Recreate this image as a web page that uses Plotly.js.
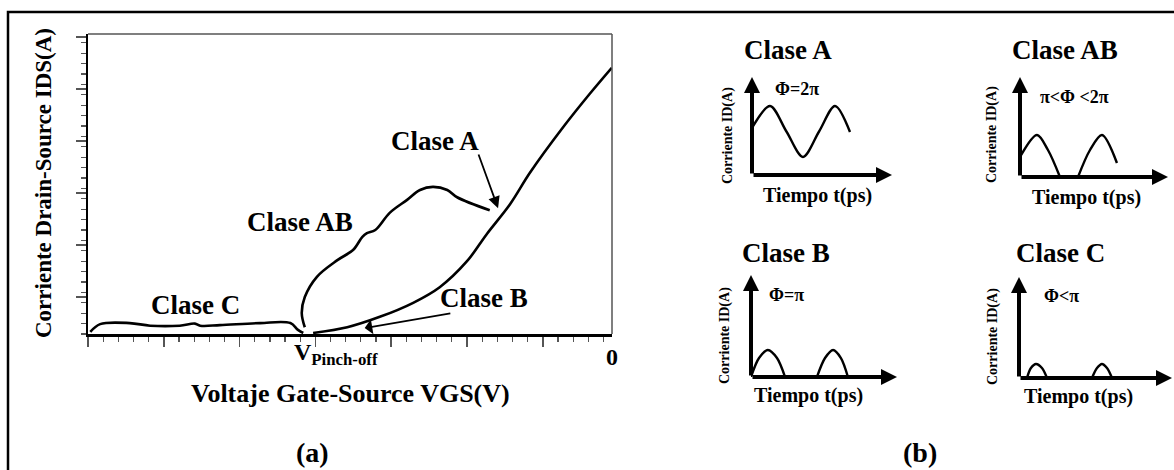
<!DOCTYPE html>
<html>
<head>
<meta charset="utf-8">
<script src="https://cdn.plot.ly/plotly-3.0.1.min.js"></script>
<style>html,body{margin:0;padding:0;background:#fff;}#chart{width:1174px;height:470px;}</style>
</head>
<body>
<div id="chart"></div>
<script>
// ---------- (a) transfer characteristic ----------
// x: VGS in major-tick units (left edge = 0, right edge "0 V" = 6.91); y: IDS in major-tick units
const mainVgs = [2.97, 3.42, 3.85, 4.29, 4.64, 5.00, 5.26, 5.57, 5.83, 6.27, 6.62, 6.91];
const mainIds = [0.02, 0.13, 0.33, 0.60, 0.90, 1.40, 1.92, 2.50, 3.10, 3.98, 4.62, 5.12];
const classABVgs = [2.86, 2.82, 2.86, 3.02, 3.29, 3.50, 3.62, 3.68, 3.79, 3.98, 4.21, 4.38, 4.55, 4.74, 4.87, 5.30];
const classABIds = [0.13, 0.40, 0.71, 1.10, 1.42, 1.62, 1.87, 1.94, 2.00, 2.33, 2.58, 2.77, 2.83, 2.77, 2.63, 2.38];
const classCVgs = [0.03, 0.16, 0.55, 0.82, 1.21, 1.41, 1.48, 1.74, 2.27, 2.67, 2.77, 2.84];
const classCIds = [0.04, 0.19, 0.21, 0.16, 0.16, 0.20, 0.16, 0.17, 0.21, 0.21, 0.08, 0.02];
const xTickLabels = ["V<sub>Pinch-off</sub>", "0"];

// ---------- (b) drain current waveforms (time, current) ----------
const waveATime = [0, 1.29, 2.46, 3.64, 4.79, 5.93, 7.0];
const waveACurr = [4.8, 7.04, 4.44, 1.84, 4.44, 7.04, 4.39];
const waveABTime = [0, 1.15, 1.89, 2.70, null, 3.92, 4.73, 5.54, 6.55];
const waveABCurr = [2.0, 4.2, 2.7, 0, null, 0, 2.7, 4.2, 1.4];
const waveBTime = [0, 0.55, 1.16, 1.78, 2.33, null, 4.52, 5.07, 5.62, 6.16, 6.64];
const waveBCurr = [0, 1.86, 2.65, 1.86, 0, null, 0, 1.86, 2.65, 1.86, 0];
const waveCTime = [0.52, 0.78, 1.11, 1.5, 1.83, null, 4.77, 5.1, 5.42, 5.75, 6.08];
const waveCCurr = [0, 0.99, 1.39, 0.99, 0, null, 0, 0.99, 1.39, 0.99, 0];
const panelTitles = ["Clase A", "Clase AB", "Clase B", "Clase C"];
const phaseLabels = ["Φ=2π", "π&lt;Φ &lt;2π", "Φ=π", "Φ&lt;π"];

const W = 1174, H = 470;
const fx = px => px / W;
const fy = py => 1 - py / H;
const FONT = "Liberation Serif, Times New Roman, serif";
const LINE = {color: "black", width: 2.6, shape: "spline", smoothing: 1};

const traces = [
  {x: classCVgs, y: classCIds, mode: "lines", line: LINE, xaxis: "x", yaxis: "y", hoverinfo: "skip"},
  {x: classABVgs, y: classABIds, mode: "lines", line: LINE, xaxis: "x", yaxis: "y", hoverinfo: "skip"},
  {x: mainVgs, y: mainIds, mode: "lines", line: LINE, xaxis: "x", yaxis: "y", hoverinfo: "skip"},
];

// small panels: origin pixel, x-arrow tip, y-arrow tip
const panels = [
  {t: waveATime, c: waveACurr, ox: 752, oy: 175, xt: 892, yt: 77},
  {t: waveABTime, c: waveABCurr, ox: 1020, oy: 177, xt: 1168, yt: 77},
  {t: waveBTime, c: waveBCurr, ox: 751, oy: 377, xt: 897, yt: 275},
  {t: waveCTime, c: waveCCurr, ox: 1019, oy: 378, xt: 1172, yt: 277},
];
// label positions (pixel centres) for each small panel
const panelText = [
  {title: [788, 50], phi: [797, 89], time: [817, 196], curr: [728, 136]},
  {title: [1065, 50], phi: [1074, 97], time: [1086, 197], curr: [992, 135]},
  {title: [786, 253], phi: [786, 295], time: [808, 395], curr: [725, 336]},
  {title: [1060, 253], phi: [1061, 296], time: [1078, 396], curr: [993, 337]},
];

const layout = {
  width: W, height: H,
  margin: {l: 0, r: 0, t: 0, b: 0},
  paper_bgcolor: "white", plot_bgcolor: "white",
  showlegend: false,
  font: {family: FONT, color: "black"},
  xaxis: {
    domain: [fx(88), fx(612)], range: [0, 6.913], anchor: "y",
    showgrid: false, zeroline: false, showline: true, linecolor: "black", linewidth: 3,
    ticks: "outside", tick0: 0, dtick: 1, ticklen: 10, tickwidth: 1.5, tickcolor: "#555",
    minor: {ticks: "outside", dtick: 0.2, ticklen: 5, tickwidth: 1.2, tickcolor: "#555"},
    showticklabels: false, fixedrange: true
  },
  yaxis: {
    domain: [fy(334), fy(34)], range: [0, 5.77], anchor: "x",
    showgrid: false, zeroline: false, showline: true, linecolor: "black", linewidth: 2.5,
    ticks: "outside", tick0: 0.71, dtick: 1, ticklen: 10, tickwidth: 1.5, tickcolor: "#555",
    minor: {ticks: "outside", dtick: 0.2, ticklen: 5, tickwidth: 1.2, tickcolor: "#555"},
    showticklabels: false, fixedrange: true
  },
  shapes: [
    {type: "line", xref: "paper", yref: "paper", x0: fx(88), x1: fx(612), y0: fy(34), y1: fy(34), line: {color: "#555", width: 1.5}},
    {type: "line", xref: "paper", yref: "paper", x0: fx(612), x1: fx(612), y0: fy(34), y1: fy(334), line: {color: "#555", width: 1.5}},
    {type: "rect", xref: "paper", yref: "paper", x0: fx(8), x1: 1.02, y0: fy(12), y1: -0.05, line: {color: "black", width: 2.5}},
  ],
  annotations: []
};

const ann = layout.annotations;
function txt(text, px, py, size, extra) {
  ann.push(Object.assign({text: text, xref: "paper", yref: "paper", x: fx(px), y: fy(py),
    xanchor: "center", yanchor: "middle", showarrow: false,
    font: {family: FONT, size: size, color: "black", weight: "bold"}}, extra || {}));
}

// panel (a) texts
txt("Clase A", 435, 141, 27);
txt("Clase AB", 300, 222, 27);
txt("Clase C", 195, 305, 27);
txt("Clase B", 484, 298, 27);
txt(xTickLabels[0], 336, 354, 24);
txt(xTickLabels[1], 612, 357, 24);
txt("Voltaje Gate-Source VGS(V)", 350, 393, 26);
txt("Corriente Drain-Source IDS(A)", 43, 183, 23, {textangle: -90});
txt("(a)", 312, 452, 28);
txt("(b)", 920, 452, 28);

// arrows in panel (a)
ann.push({xref: "x", yref: "y", axref: "x", ayref: "y", x: 5.41, y: 2.42, ax: 5.145, ay: 3.48,
  text: "", showarrow: true, arrowhead: 2, arrowsize: 1.3, arrowwidth: 1.8, arrowcolor: "black"});
ann.push({xref: "x", yref: "y", axref: "x", ayref: "y", x: 3.65, y: 0.115, ax: 4.80, ay: 0.40,
  text: "", showarrow: true, arrowhead: 1, arrowsize: 1.4, arrowwidth: 1.8, arrowcolor: "black"});

// small panels
panels.forEach((p, i) => {
  const n = i + 2;
  const xa = "xaxis" + n, ya = "yaxis" + n;
  layout[xa] = {domain: [fx(p.ox), fx(p.xt)], range: [0, 10], anchor: "y" + n, visible: false, fixedrange: true};
  layout[ya] = {domain: [fy(p.oy), fy(p.yt)], range: [0, 10], anchor: "x" + n, visible: false, fixedrange: true};
  traces.push({x: p.t, y: p.c, mode: "lines", connectgaps: false,
    line: {color: "black", width: 2.4, shape: "spline", smoothing: 0.9},
    xaxis: "x" + n, yaxis: "y" + n, hoverinfo: "skip", cliponaxis: false});
  ann.push({xref: "x" + n, yref: "y" + n, axref: "x" + n, ayref: "y" + n, x: 10, y: 0, ax: 0, ay: 0,
    text: "", showarrow: true, arrowhead: 2, arrowsize: 0.8, arrowwidth: 4, arrowcolor: "black"});
  ann.push({xref: "x" + n, yref: "y" + n, axref: "x" + n, ayref: "y" + n, x: 0, y: 10, ax: 0, ay: 0,
    text: "", showarrow: true, arrowhead: 2, arrowsize: 0.8, arrowwidth: 4, arrowcolor: "black"});
  const pt = panelText[i];
  txt(panelTitles[i], pt.title[0], pt.title[1], 27);
  txt(phaseLabels[i], pt.phi[0], pt.phi[1], 18);
  txt("Tiempo t(ps)", pt.time[0], pt.time[1], 20);
  txt("Corriente ID(A)", pt.curr[0], pt.curr[1], 14, {textangle: -90});
});

Plotly.newPlot("chart", traces, layout, {staticPlot: true, displayModeBar: false});
</script>
</body>
</html>
